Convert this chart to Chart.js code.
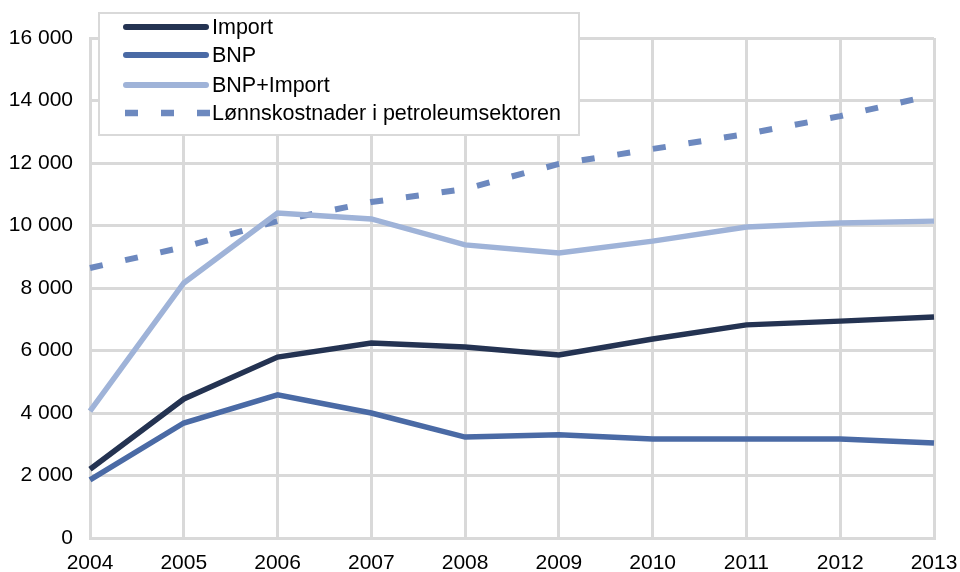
<!DOCTYPE html>
<html>
<head>
<meta charset="utf-8">
<script src="https://cdn.jsdelivr.net/npm/chart.js@4.4.1/dist/chart.umd.min.js"></script>
<style>
html,body{margin:0;padding:0;background:#fff;}
#wrap{width:960px;height:572px;position:relative;}
</style>
</head>
<body>
<div id="wrap"><canvas id="c" width="960" height="572"></canvas></div>
<script>
const years = ['2004','2005','2006','2007','2008','2009','2010','2011','2012','2013'];
const importVals = [2200, 4450, 5790, 6240, 6110, 5860, 6370, 6820, 6940, 7070];
const bnpVals = [1860, 3680, 4580, 4000, 3230, 3300, 3170, 3170, 3170, 3040];
const sumVals = [4060, 8160, 10400, 10210, 9380, 9120, 9500, 9950, 10080, 10140];
const wageVals = [8640, 9310, 10140, 10750, 11170, 11970, 12450, 12930, 13500, 14180];
const seriesNames = ['Import', 'BNP', 'BNP+Import', 'Lønnskostnader i petroleumsektoren'];

const FONT = '"Liberation Sans", Arial, sans-serif';

const legendPlugin = {
  id: 'boxLegend',
  afterDraw(chart) {
    const ctx = chart.ctx;
    const x0 = 99, y0 = 13, w = 480, h = 122;
    ctx.save();
    ctx.fillStyle = '#ffffff';
    ctx.fillRect(x0, y0, w, h);
    ctx.strokeStyle = '#d9d9d9';
    ctx.lineWidth = 2;
    ctx.strokeRect(x0, y0, w, h);
    ctx.font = '21.5px ' + FONT;
    ctx.textBaseline = 'middle';
    ctx.fillStyle = '#000';
    const rowsY = [27, 55, 85, 113];
    chart.data.datasets.forEach((ds, i) => {
      const y = rowsY[i];
      ctx.beginPath();
      ctx.strokeStyle = ds.borderColor;
      if (ds.borderDash) {
        ctx.lineWidth = 6.5;
        ctx.lineCap = 'butt';
        ctx.setLineDash([13, 23]);
        ctx.moveTo(125, y);
        ctx.lineTo(210, y);
      } else {
        ctx.lineWidth = 6;
        ctx.lineCap = 'round';
        ctx.setLineDash([]);
        ctx.moveTo(126, y);
        ctx.lineTo(206, y);
      }
      ctx.stroke();
      ctx.setLineDash([]);
      ctx.fillText(ds.label, 212, y + 1);
    });
    ctx.restore();
  }
};

const chart = new Chart(document.getElementById('c'), {
  type: 'line',
  data: {
    labels: years,
    datasets: [
      { label: seriesNames[0], data: importVals, borderColor: '#243352', borderWidth: 5.5, pointRadius: 0, tension: 0, fill: false },
      { label: seriesNames[1], data: bnpVals, borderColor: '#4a6aa5', borderWidth: 5.5, pointRadius: 0, tension: 0, fill: false },
      { label: seriesNames[2], data: sumVals, borderColor: '#9fb3d8', borderWidth: 5.5, pointRadius: 0, tension: 0, fill: false },
      { label: seriesNames[3], data: wageVals, borderColor: '#6d89bf', borderWidth: 6, borderDash: [13, 23], borderCapStyle: 'butt', pointRadius: 0, tension: 0, fill: false }
    ]
  },
  options: {
    responsive: false,
    animation: false,
    devicePixelRatio: 1,
    layout: { padding: { left: 0, right: 26, top: 38, bottom: 0 } },
    plugins: { legend: { display: false }, tooltip: { enabled: false } },
    scales: {
      x: {
        offset: false,
        grid: { color: '#d9d9d9', lineWidth: 3, drawTicks: false },
        border: { color: '#d9d9d9', width: 3 },
        ticks: { color: '#000', font: { family: FONT, size: 21 }, padding: 13, maxRotation: 0, autoSkip: false },
        afterFit(s) { s.height = 34; s.paddingRight = 0; }
      },
      y: {
        min: 0, max: 16000,
        grid: { color: '#d9d9d9', lineWidth: 3, drawTicks: false },
        border: { color: '#d9d9d9', width: 3 },
        ticks: {
          stepSize: 2000, color: '#000', font: { family: FONT, size: 21 }, padding: 17,
          callback: v => String(v).replace(/\B(?=(\d{3})+(?!\d))/g, ' ')
        },
        afterFit(s) { s.width = 90; }
      }
    }
  },
  plugins: [legendPlugin]
});
</script>
</body>
</html>
